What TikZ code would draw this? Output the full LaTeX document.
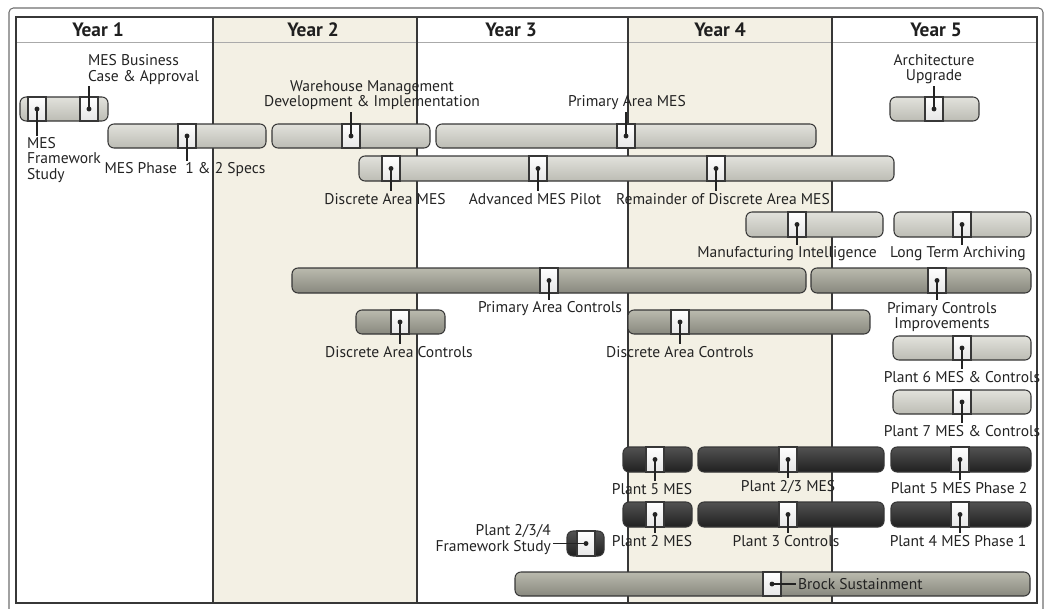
\documentclass[tikz,border=0pt]{standalone}
\usepackage{fontspec}
\setmainfont{PT Sans}
\usetikzlibrary{calc, positioning}
\definecolor{creamcol}{RGB}{243,240,228}
\definecolor{edgecol}{RGB}{55,55,55}
\definecolor{framecol}{RGB}{110,110,110}
\definecolor{gridcol}{RGB}{170,170,170}
\definecolor{textcol}{RGB}{35,35,35}
\definecolor{lighttop}{RGB}{226,226,220}
\definecolor{lightbot}{RGB}{188,188,180}
\definecolor{midtop}{RGB}{186,186,174}
\definecolor{midbot}{RGB}{136,136,126}
\definecolor{darktop}{RGB}{82,82,82}
\definecolor{darkbot}{RGB}{32,32,32}

% milestone box: name, x, top, bottom
\newcommand{\milestone}[4]{%
  \draw[msbox] (#2-9,#3) rectangle (#2+9,#4);
  \coordinate (#1) at (#2,{(#3+#4)/2});
  \fill[textcol] (#1) circle (1.4pt);
}

\begin{document}
\begin{tikzpicture}[x=0.02cm, y=-0.02cm,
    lightbar/.style={draw=edgecol, line width=0.6pt, rounded corners=3.4pt, top color=lighttop, bottom color=lightbot},
    midbar/.style={draw=edgecol, line width=0.6pt, rounded corners=3.4pt, top color=midtop, bottom color=midbot},
    darkbar/.style={draw=edgecol, line width=0.6pt, rounded corners=3.4pt, top color=darktop, bottom color=darkbot},
    msbox/.style={draw=edgecol, line width=0.6pt, top color=white, bottom color=black!10},
    leader/.style={draw=textcol, line width=0.6pt},
    lbl/.style={text=textcol, inner sep=1pt, align=center, font=\fontsize{8.85}{8.6}\selectfont},
    yearlbl/.style={text=black!88, inner sep=0pt, font=\fontsize{11}{12}\selectfont\bfseries}]
\useasboundingbox (0,0) rectangle (1047,608);

% frame and year columns
\draw[framecol, rounded corners=2.5pt, line width=0.6pt] (9,8) rectangle (1043,625);
\fill[creamcol] (213,17) rectangle (417,603);
\fill[creamcol] (628,17) rectangle (832,603);
\draw[gridcol, line width=0.6pt] (16,42.5) -- (1037,42.5);
\foreach \x in {213,417,628,832}
  \draw[edgecol, line width=0.6pt] (\x,17) -- (\x,603);
\draw[edgecol, line width=0.9pt] (16,17) rectangle (1037,603);
\foreach \x/\n in {98/1,313/2,511/3,720/4,936/5}
  \node[yearlbl] (year\n) at (\x,30) {Year \n};

% bars
\draw[lightbar] (20,97) rectangle (108,121);
\draw[lightbar] (890,97) rectangle (979,121);
\draw[lightbar] (108,124) rectangle (266,148);
\draw[lightbar] (272,124) rectangle (430,148);
\draw[lightbar] (436,124) rectangle (816,148);
\draw[lightbar] (359,156) rectangle (894,181);
\draw[lightbar] (746,212) rectangle (883,237);
\draw[lightbar] (894,212) rectangle (1031,237);
\draw[midbar] (292,268) rectangle (806,293);
\draw[midbar] (811,268) rectangle (1031,293);
\draw[midbar] (356,310) rectangle (445,334);
\draw[midbar] (628,310) rectangle (870,334);
\draw[lightbar] (893,336) rectangle (1031,360);
\draw[lightbar] (893,390) rectangle (1031,414);
\draw[darkbar] (623,447) rectangle (692,472);
\draw[darkbar] (698,447) rectangle (884,472);
\draw[darkbar] (891,447) rectangle (1031,472);
\draw[darkbar] (623,502) rectangle (692,527);
\draw[darkbar] (698,502) rectangle (884,527);
\draw[darkbar] (891,502) rectangle (1031,527);
\draw[darkbar] (567,531) rectangle (604,556);
\draw[midbar] (515,572) rectangle (1030,596);

% milestones
\milestone{fwstudy}{37}{97}{121}
\milestone{bizcase}{89}{97}{121}
\milestone{archup}{934}{97}{121}
\milestone{specs}{187}{124}{148}
\milestone{whmgmt}{351}{124}{148}
\milestone{primes}{626}{124}{148}
\milestone{discmes}{391}{156}{181}
\milestone{advpilot}{538}{156}{181}
\milestone{remdisc}{716}{156}{181}
\milestone{mfgint}{797}{212}{237}
\milestone{archiv}{962}{212}{237}
\milestone{primctl}{549}{268}{293}
\milestone{ctlimp}{937}{268}{293}
\milestone{discctla}{400}{310}{334}
\milestone{discctlb}{680}{310}{334}
\milestone{plantsix}{962}{336}{360}
\milestone{plantsev}{962}{390}{414}
\milestone{pfivemes}{655}{447}{472}
\milestone{ptwothree}{788}{447}{472}
\milestone{pfivetwo}{960}{447}{472}
\milestone{ptwomes}{655}{502}{527}
\milestone{pthreectl}{788}{502}{527}
\milestone{pfourone}{960}{502}{527}
\milestone{pfwstudy}{586}{531}{556}
\milestone{brock}{772}{572}{596}

% labels
\node[lbl, align=left, anchor=west] (fwstudyl) at (25,160) {MES\\Framework\\Study};
\node[lbl, align=left, anchor=west] (bizcasel) at (86,69.5) {MES Business\\Case \& Approval};
\node[lbl] (archupl) at (934,69.5) {Architecture\\Upgrade};
\node[lbl] (specsl) at (185,170) {MES Phase\ \ 1 \& 2 Specs};
\node[lbl] (whmgmtl) at (372,95.5) {Warehouse Management\\Development \& Implementation};
\node[lbl] (primesl) at (627,103) {Primary Area MES};
\node[lbl] (discmesl) at (385,199) {Discrete Area MES};
\node[lbl] (advpilotl) at (535,199) {Advanced MES Pilot};
\node[lbl] (remdiscl) at (723,199) {Remainder of Discrete Area MES};
\node[lbl] (mfgintl) at (787,254) {Manufacturing Intelligence};
\node[lbl] (archivl) at (958,254) {Long Term Archiving};
\node[lbl] (primctll) at (550,309) {Primary Area Controls};
\node[lbl] (ctlimpl) at (942,317) {Primary Controls\\Improvements};
\node[lbl] (discctlal) at (399,352) {Discrete Area Controls};
\node[lbl] (discctlbl) at (680,352) {Discrete Area Controls};
\node[lbl] (plantsixl) at (962,377) {Plant 6 MES \& Controls};
\node[lbl] (plantsevl) at (962,431) {Plant 7 MES \& Controls};
\node[lbl] (pfivemesl) at (652,489) {Plant 5 MES};
\node[lbl] (ptwothreel) at (788,487) {Plant 2/3 MES};
\node[lbl] (pfivetwol) at (959,488) {Plant 5 MES Phase 2};
\node[lbl] (ptwomesl) at (652,541) {Plant 2 MES};
\node[lbl] (pthreectll) at (786,541) {Plant 3 Controls};
\node[lbl] (pfouronel) at (958,541) {Plant 4 MES Phase 1};
\node[lbl, align=right, anchor=east] (pfwstudyl) at (553,539.5) {Plant 2/3/4\\Framework Study};
\node[lbl, anchor=west] (brockl) at (796,584) {Brock Sustainment};

% leaders
\foreach \m in {fwstudy,specs,discmes,advpilot,remdisc,mfgint,archiv,primctl,ctlimp,discctla,discctlb,plantsix,plantsev,pfivemes,ptwothree,pfivetwo,ptwomes,pthreectl,pfourone}
  \draw[leader] (\m) -- (\m |- \m l.north);
\foreach \m in {bizcase,archup,whmgmt,primes}
  \draw[leader] (\m) -- (\m |- \m l.south);
\draw[leader] (pfwstudy) -- (pfwstudy -| pfwstudyl.east);
\draw[leader] (brock) -- (brockl.west);
\end{tikzpicture}
\end{document}
